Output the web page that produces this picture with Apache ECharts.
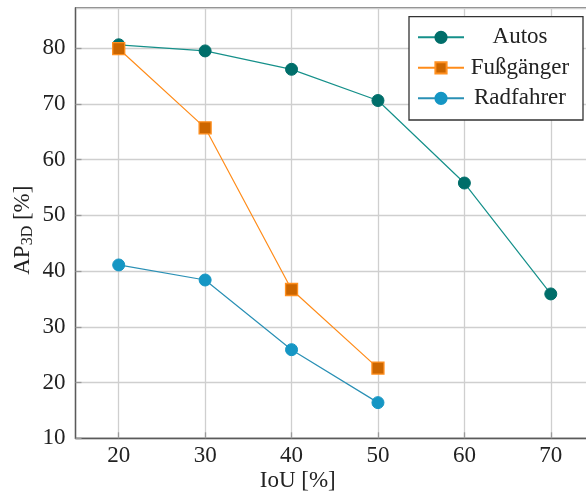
<!DOCTYPE html>
<html><head><meta charset="utf-8">
<script src="https://cdn.jsdelivr.net/npm/echarts@6/dist/echarts.min.js"></script>
<style>html,body{margin:0;padding:0;background:#fff}#c{width:586px;height:491px}</style>
</head><body><div id="c"></div>
<script>
const iouAutos = [20, 30, 40, 50, 60, 70];
const autos = [80.6, 79.5, 76.2, 70.6, 55.8, 35.9];
const iouFuss = [20, 30, 40, 50];
const fussgaenger = [79.9, 65.7, 36.7, 22.6];
const iouRad = [20, 30, 40, 50];
const radfahrer = [41.1, 38.4, 25.9, 16.4];
const xTicks = [20, 30, 40, 50, 60, 70];
const seriesNames = ['Autos', 'Fußgänger', 'Radfahrer'];

const FONT = '"Liberation Serif", "DejaVu Serif", serif';
const TXT = '#222';
const pairs = (xs, ys) => xs.map((x, i) => [x, ys[i]]);

const chart = echarts.init(document.getElementById('c'), null, {renderer: 'canvas'});
chart.setOption({
  animation: false,
  backgroundColor: '#fff',
  grid: {left: 75.5, top: 8, right: -8, bottom: 52.7, show: true, outerBoundsMode: 'none', containLabel: false,
    borderColor: '#5a5a5a', borderWidth: 1.3, backgroundColor: 'transparent'},
  xAxis: {
    type: 'value', min: 15, max: 75,
    name: 'IoU [%]', nameLocation: 'middle', nameGap: 31.5, nameMoveOverlap: false,
    nameTextStyle: {fontFamily: FONT, fontSize: 23, color: TXT, padding: [0, 74, 0, 0]},
    axisLine: {show: true, lineStyle: {color: '#5a5a5a', width: 1.3}},
    axisTick: {show: true, inside: true, length: 6, customValues: xTicks, lineStyle: {color: '#9a9a9a', width: 1.3}},
    axisLabel: {customValues: xTicks, fontFamily: FONT, fontSize: 23, color: TXT, margin: 6},
    splitLine: {show: true, lineStyle: {color: '#cfcfcf', width: 1.3}}
  },
  yAxis: {
    type: 'value', min: 10, max: 87.2, interval: 10,
    name: '{a|AP}{b|3D}{a| [%]}', nameLocation: 'middle', nameGap: 40, nameRotate: 90, nameMoveOverlap: false,
    nameTextStyle: {padding: [0, 14, 0, 0], rich: {
      a: {fontFamily: FONT, fontSize: 23, color: TXT, lineHeight: 26},
      b: {fontFamily: FONT, fontSize: 16, color: TXT, lineHeight: 20, verticalAlign: 'bottom'}
    }},
    axisLine: {show: true, lineStyle: {color: '#5a5a5a', width: 1.3}},
    axisTick: {show: true, inside: true, length: 6, lineStyle: {color: '#9a9a9a', width: 1.3}},
    axisLabel: {fontFamily: FONT, fontSize: 23, color: TXT, margin: 10, showMaxLabel: false},
    splitLine: {show: true, lineStyle: {color: '#cfcfcf', width: 1.3}}
  },
  legend: {
    left: 409, top: 16.7, orient: 'vertical',
    data: seriesNames,
    backgroundColor: '#fff', borderColor: '#333', borderWidth: 1.3,
    padding: [8.6, 12, 9.7, 8],
    itemWidth: 46, itemHeight: 14, itemGap: 6.5,
    formatter: n => '{c|' + n + '}',
    textStyle: {fontFamily: FONT, fontSize: 23, color: TXT, lineHeight: 24,
      rich: {c: {fontFamily: FONT, fontSize: 23, color: TXT, width: 102, align: 'center', lineHeight: 24}}}
  },
  series: [
    {name: seriesNames[0], type: 'line', data: pairs(iouAutos, autos),
     symbol: 'circle', symbolSize: 12,
     lineStyle: {color: '#15908a', width: 1.2},
     itemStyle: {color: '#006e6a', borderColor: '#006e6a', borderWidth: 1}},
    {name: seriesNames[1], type: 'line', data: pairs(iouFuss, fussgaenger),
     symbol: 'rect', symbolSize: 12,
     lineStyle: {color: '#ff8c1a', width: 1.2},
     itemStyle: {color: '#cc6600', borderColor: '#ff9020', borderWidth: 1.3}},
    {name: seriesNames[2], type: 'line', data: pairs(iouRad, radfahrer),
     symbol: 'circle', symbolSize: 12,
     lineStyle: {color: '#2a90b5', width: 1.2},
     itemStyle: {color: '#1596c4', borderColor: '#1596c4', borderWidth: 1}}
  ]
});
</script></body></html>
